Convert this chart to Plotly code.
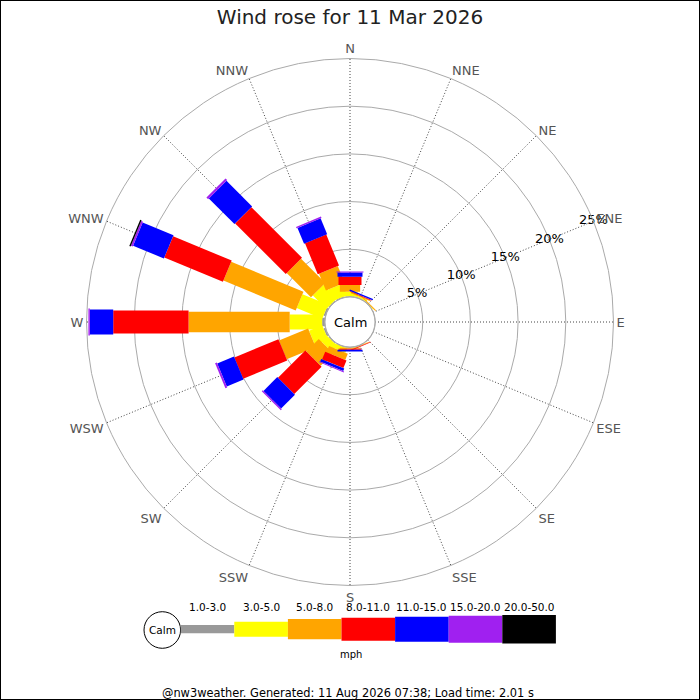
import math
import plotly.graph_objects as go

directions = ["N", "NNE", "NE", "ENE", "E", "ESE", "SE", "SSE",
              "S", "SSW", "SW", "WSW", "W", "WNW", "NW", "NNW"]
dir_angles = [i * 22.5 for i in range(16)]

speed_bins = ["1.0-3.0", "3.0-5.0", "5.0-8.0", "8.0-11.0",
              "11.0-15.0", "15.0-20.0", "20.0-50.0"]
bin_colors = ["#999999", "#ffff00", "#ffa500", "#ff0000",
              "#0000ff", "#a020f0", "#000000"]

# % of the day per direction (N .. NNW), one list per speed bin (mph)
pct_1_3 = [0.05, 0.05, 0.03, 0, 0, 0, 0, 0.02, 0.03, 0.05, 0.1, 0.2, 0.3, 0.2, 0.1, 0.1]
pct_3_5 = [0.5, 0.15, 0.05, 0, 0, 0, 0, 0.04, 0.05, 0.5, 0.85, 1.5, 3.4, 2.9, 2.0, 1.3]
pct_5_8 = [0.7, 0.1, 0.1, 0, 0, 0, 0, 0.06, 0.1, 0.7, 1.85, 3.3, 10.6, 8.2, 3.6, 1.9]
pct_8_11 = [0.87, 0.08, 0, 0, 0, 0, 0, 0.07, 0.1, 0.86, 4.05, 5.0, 7.9, 6.65, 7.5, 3.5]
pct_11_15 = [0.46, 0.15, 0, 0, 0, 0, 0, 0, 0.18, 0.3, 2.05, 1.9, 2.45, 3.5, 3.8, 1.8]
pct_15_20 = [0.08, 0, 0, 0, 0, 0, 0, 0, 0.02, 0.1, 0.15, 0.2, 0.15, 0.2, 0.25, 0.15]
pct_20_50 = [0, 0, 0, 0, 0, 0, 0, 0, 0, 0, 0, 0, 0, 0.15, 0, 0]
series = [pct_1_3, pct_3_5, pct_5_8, pct_8_11, pct_11_15, pct_15_20, pct_20_50]

ring_vals = [5, 10, 15, 20, 25]
ring_text = ["5%", "10%", "15%", "20%", "25%"]

# layout geometry (pixels)
W = H = 700
CX, CY = 350, 322
R_PX = 263.5
HOLE_PX = 25
RMAX = 25
PX_PER_PCT = (R_PX - HOLE_PX) / RMAX
leg_widths = [8.3, 15, 20.3, 23, 25, 27, 28.6]
FONT = "DejaVu Sans"


def leg_piece(phi, d0, d1, half):
    # rectangle along direction phi, from d0 to d1 px out, half-width px
    r, t = [], []
    for d, s in [(d0, -half), (d1, -half), (d1, half), (d0, half), (d0, -half)]:
        r.append((math.hypot(d, s) - HOLE_PX) / PX_PER_PCT)
        t.append(phi + math.degrees(math.atan2(s, d)))
    return r, t


fig = go.Figure()

# cumulative start per direction
starts = [0.0] * 16
pieces = []
for b, vals in enumerate(series):
    for i, v in enumerate(vals):
        if v > 0:
            d0 = HOLE_PX + starts[i] * PX_PER_PCT
            d1 = HOLE_PX + (starts[i] + v) * PX_PER_PCT
            pieces.append((b, dir_angles[i], d0, d1))
        starts[i] += v

for b, phi, d0, d1 in pieces:
    r, t = leg_piece(phi, d0, d1, leg_widths[b] / 2)
    fig.add_trace(go.Scatterpolar(
        r=r, theta=t, mode="lines", fill="toself",
        fillcolor=bin_colors[b], line=dict(width=0, color=bin_colors[b]),
        hoverinfo="skip", showlegend=False
    ))

# calm circle edge
fig.add_trace(go.Scatterpolar(
    r=[0] * 121, theta=[i * 3 for i in range(121)], mode="lines",
    line=dict(color="#aaaaaa", width=1.5), hoverinfo="skip", showlegend=False
))

# ring labels along ENE spoke
fig.add_trace(go.Scatterpolar(
    r=ring_vals, theta=[67.5] * len(ring_vals), mode="text", text=ring_text,
    textfont=dict(family=FONT, size=13, color="black"),
    cliponaxis=False, hoverinfo="skip", showlegend=False
))

fig.update_layout(
    width=W, height=H,
    margin=dict(l=0, r=0, t=0, b=0),
    paper_bgcolor="white",
    font=dict(family=FONT),
    title=dict(text="Wind rose for 11 Mar 2026", x=0.5, xanchor="center",
               y=1 - 17 / H, yanchor="middle", yref="container",
               font=dict(family=FONT, size=20, color="#222222")),
    polar=dict(
        domain=dict(x=[(CX - R_PX) / W, (CX + R_PX) / W],
                    y=[(H - CY - R_PX) / H, (H - CY + R_PX) / H]),
        hole=HOLE_PX / R_PX,
        bgcolor="white",
        radialaxis=dict(range=[0, RMAX], tickvals=ring_vals, showticklabels=False,
                        ticks="", showline=False, gridcolor="#aaaaaa", gridwidth=1),
        angularaxis=dict(direction="clockwise", rotation=90,
                         tickvals=dir_angles, ticktext=directions, ticks="",
                         showline=True, linecolor="#aaaaaa", linewidth=1,
                         gridcolor="#444444", griddash="1px,2px", gridwidth=1,
                         tickfont=dict(family=FONT, size=13, color="#555555")),
    ),
)

annotations = [
    dict(text="Calm", x=CX / W, y=1 - CY / H, font=dict(size=13, color="black")),
]
shapes = [
    dict(type="rect", xref="paper", yref="paper", x0=0, x1=1, y0=0, y1=1,
         line=dict(color="black", width=2)),
]

# legend key
LEG_X0, LEG_STEP, LEG_Y = 180.7, 53.6, 629.2
CALM_X, CALM_Y, CALM_R = 162.3, 630, 18.3
shapes.append(dict(type="circle", xref="paper", yref="paper",
                   x0=(CALM_X - CALM_R) / W, x1=(CALM_X + CALM_R) / W,
                   y0=1 - (CALM_Y + CALM_R) / H, y1=1 - (CALM_Y - CALM_R) / H,
                   line=dict(color="black", width=1), fillcolor="white"))
annotations.append(dict(text="Calm", x=CALM_X / W, y=1 - CALM_Y / H,
                        font=dict(size=10.5, color="black")))
for b, label in enumerate(speed_bins):
    x0 = LEG_X0 + b * LEG_STEP
    h = leg_widths[b] / 2
    shapes.append(dict(type="rect", xref="paper", yref="paper",
                       x0=x0 / W, x1=(x0 + LEG_STEP) / W,
                       y0=1 - (LEG_Y + h) / H, y1=1 - (LEG_Y - h) / H,
                       line=dict(width=0), fillcolor=bin_colors[b]))
    annotations.append(dict(text=label, x=(x0 + LEG_STEP / 2) / W, y=1 - 606.7 / H,
                            font=dict(size=10.5, color="black")))
annotations.append(dict(text="mph", x=350.7 / W, y=1 - 654 / H,
                        font=dict(size=10, color="black")))
annotations.append(dict(text="@nw3weather. Generated: 11 Aug 2026 07:38; Load time: 2.01 s",
                        x=348 / W, y=1 - 693 / H, font=dict(size=11.4, color="black")))

for a in annotations:
    a.update(xref="paper", yref="paper", showarrow=False,
             xanchor="center", yanchor="middle")
    a["font"]["family"] = FONT

fig.update_layout(annotations=annotations, shapes=shapes)

# page body has a default margin; drop it so the figure sits at the window origin
fig.write_html("out.html", config={"displayModeBar": False},
               post_script="document.body.style.margin='0';")
